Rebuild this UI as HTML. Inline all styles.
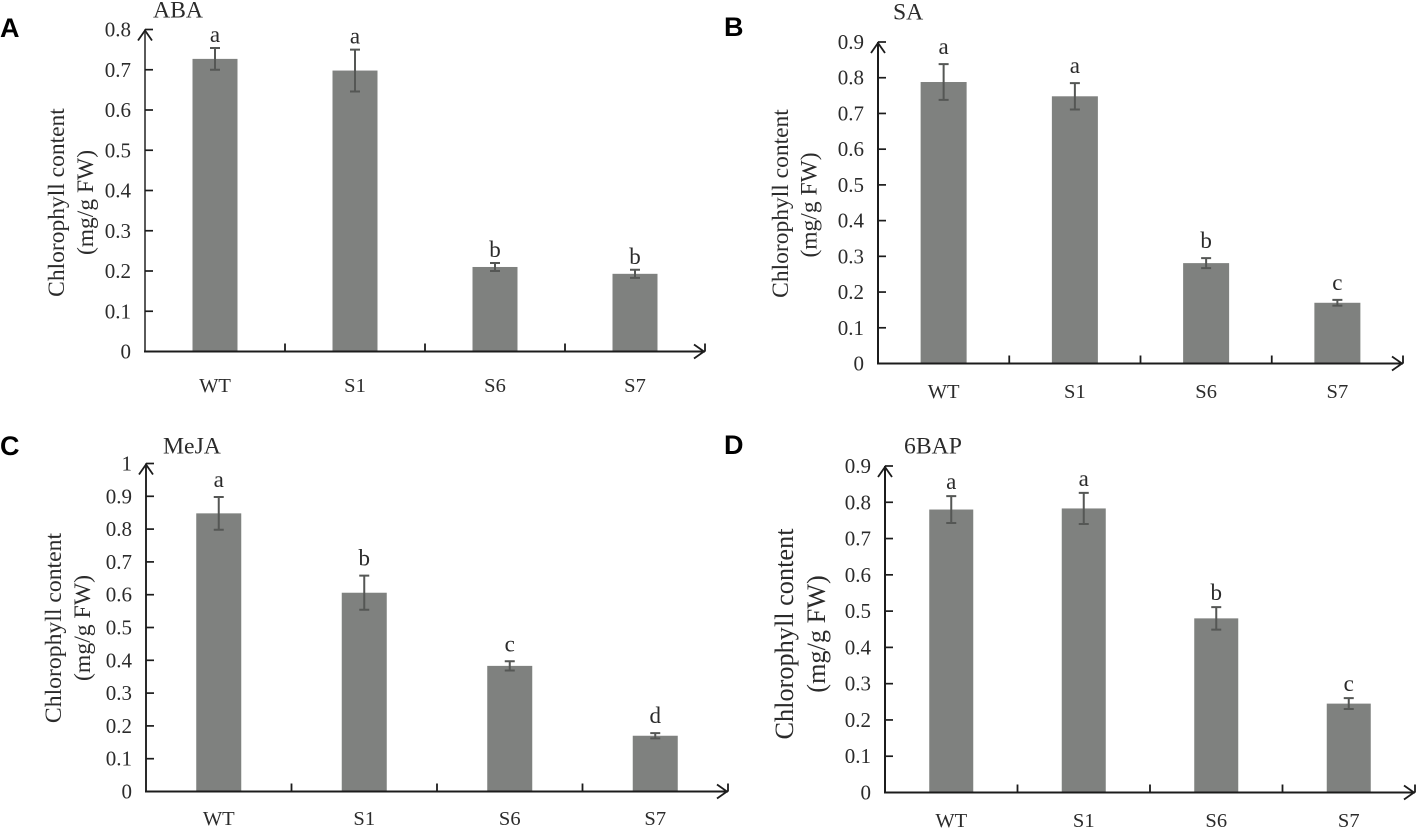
<!DOCTYPE html>
<html lang="en">
<head>
<meta charset="utf-8">
<title>Chlorophyll content under hormone treatments</title>
<style>
  html, body { margin: 0; padding: 0; background: #fff; }
  #figure { display: block; width: 1416px; height: 831px; }
  text { font-family: "Liberation Serif", serif; fill: #2b2b2b; }
  .panel-letter { font-family: "Liberation Sans", sans-serif; font-weight: bold; font-size: 27px; fill: #000; }
</style>
</head>
<body>
<svg id="figure" xmlns="http://www.w3.org/2000/svg" width="1416" height="831" viewBox="0 0 1416 831"></svg>
<script>
// Shared categories
const categories = ['WT', 'S1', 'S6', 'S7'];

// Panel A: ABA
const abaTicks = [0, 0.1, 0.2, 0.3, 0.4, 0.5, 0.6, 0.7, 0.8];
const abaValues = [0.727, 0.698, 0.210, 0.193];
const abaErrors = [0.027, 0.052, 0.010, 0.010];
const abaLetters = ['a', 'a', 'b', 'b'];

// Panel B: SA
const saTicks = [0, 0.1, 0.2, 0.3, 0.4, 0.5, 0.6, 0.7, 0.8, 0.9];
const saValues = [0.788, 0.748, 0.281, 0.170];
const saErrors = [0.050, 0.037, 0.014, 0.008];
const saLetters = ['a', 'a', 'b', 'c'];

// Panel C: MeJA
const mejaTicks = [0, 0.1, 0.2, 0.3, 0.4, 0.5, 0.6, 0.7, 0.8, 0.9, 1];
const mejaValues = [0.848, 0.606, 0.383, 0.170];
const mejaErrors = [0.050, 0.052, 0.014, 0.008];
const mejaLetters = ['a', 'b', 'c', 'd'];

// Panel D: 6BAP
const bapTicks = [0, 0.1, 0.2, 0.3, 0.4, 0.5, 0.6, 0.7, 0.8, 0.9];
const bapValues = [0.780, 0.783, 0.480, 0.245];
const bapErrors = [0.037, 0.043, 0.031, 0.015];
const bapLetters = ['a', 'a', 'b', 'c'];

const SVG_NS = 'http://www.w3.org/2000/svg';
const svg = document.getElementById('figure');

function make(parent, tag, attrs, content) {
  const node = document.createElementNS(SVG_NS, tag);
  for (const key in attrs) node.setAttribute(key, attrs[key]);
  if (content !== undefined) node.textContent = content;
  parent.appendChild(node);
  return node;
}

function drawPanel(cfg) {
  const slug = cfg.slug;
  const yScale = function (v) { return cfg.y0 - (v / cfg.yMax) * (cfg.y0 - cfg.yTop); };
  const slot = (cfg.xEnd - cfg.x0) / cfg.categories.length;
  const xScale = function (i) { return cfg.x0 + slot * (i + 0.5) + cfg.barShift; };

  const group = make(svg, 'g', {});
  
  

  const letter = make(group, 'text', { class: 'panel-letter', x: cfg.letterX, y: cfg.letterY }, cfg.letter);
  
  

  const title = make(group, 'text', { x: cfg.titleX, y: cfg.titleY, 'font-size': cfg.titleSize }, cfg.title);
  
  

  const yTitle1 = make(group, 'text', {
    'font-size': cfg.yTitleSize, 'text-anchor': 'middle',
    transform: 'translate(' + cfg.yLine1X + ' ' + cfg.yLine1Y + ') rotate(-90)'
  }, 'Chlorophyll content');
  
  

  const yTitle2 = make(group, 'text', {
    'font-size': cfg.yTitleSize, 'text-anchor': 'middle',
    transform: 'translate(' + cfg.yLine2X + ' ' + cfg.yLine2Y + ') rotate(-90)'
  }, '(mg/g FW)');
  
  

  cfg.values.forEach(function (value, i) {
    const cx = xScale(i);
    const bar = make(group, 'rect', {
      x: cx - cfg.barWidth / 2, y: yScale(value),
      width: cfg.barWidth, height: cfg.y0 - yScale(value), fill: '#7f817f'
    });
    
    
  });

  // Axes
  const yAxis = make(group, 'line', { x1: cfg.x0, y1: cfg.yTop, x2: cfg.x0, y2: cfg.y0 + 1, stroke: cfg.yAxisColor, 'stroke-width': 2 });
  
  

  const xAxis = make(group, 'line', { x1: cfg.x0 - 1, y1: cfg.y0, x2: cfg.xEnd, y2: cfg.y0, stroke: '#1c1c1c', 'stroke-width': 2 });
  
  

  const yArrow = make(group, 'path', {
    d: 'M' + (cfg.x0 - 7) + ' ' + (cfg.yTop + 11) + 'L' + cfg.x0 + ' ' + (cfg.yTop + 1) + 'L' + (cfg.x0 + 7) + ' ' + (cfg.yTop + 11),
    fill: 'none', stroke: '#1c1c1c', 'stroke-width': 1.8
  });
  
  

  const xArrow = make(group, 'path', {
    d: 'M' + (cfg.xEnd - 11) + ' ' + (cfg.y0 - 7) + 'L' + (cfg.xEnd - 1) + ' ' + cfg.y0 + 'L' + (cfg.xEnd - 11) + ' ' + (cfg.y0 + 7),
    fill: 'none', stroke: '#1c1c1c', 'stroke-width': 1.8
  });
  
  

  // Y ticks and labels
  cfg.ticks.forEach(function (tick) {
    const y = yScale(tick);
    if (tick !== 0) {
      const mark = make(group, 'line', { x1: cfg.x0, y1: y, x2: cfg.x0 + 8, y2: y, stroke: '#1c1c1c', 'stroke-width': 1.7 });
      
      
    }
    const label = make(group, 'text', {
      x: cfg.x0 - 14, y: y + cfg.tickDy, 'font-size': 21, 'text-anchor': 'end'
    }, String(tick));
    
    
  });

  // X ticks
  for (let i = 1; i <= cfg.categories.length; i++) {
    const x = cfg.x0 + slot * i;
    const mark = make(group, 'line', { x1: x, y1: cfg.y0 - 8, x2: x, y2: cfg.y0, stroke: '#1c1c1c', 'stroke-width': 1.8 });
    
    
  }

  // Error bars, significance letters, category labels
  cfg.values.forEach(function (value, i) {
    const cx = xScale(i);
    const top = yScale(value + cfg.errors[i]);
    const bottom = yScale(value - cfg.errors[i]);

    const err = make(group, 'path', {
      d: 'M' + (cx - 5) + ' ' + top + 'H' + (cx + 5) + 'M' + cx + ' ' + top + 'V' + bottom + 'M' + (cx - 5) + ' ' + bottom + 'H' + (cx + 5),
      fill: 'none', stroke: '#555755', 'stroke-width': 2
    });
    
    

    const sig = make(group, 'text', {
      x: cx, y: top - cfg.letterGap, 'font-size': 23, 'text-anchor': 'middle'
    }, cfg.letters[i]);
    
    

    const cat = make(group, 'text', {
      x: cx, y: cfg.catY, 'font-size': 20.5, 'text-anchor': 'middle'
    }, cfg.categories[i]);
    
    
  });
}

drawPanel({
  slug: 'aba', letter: 'A', title: 'ABA', categories: categories,
  ticks: abaTicks, values: abaValues, errors: abaErrors, letters: abaLetters, yMax: 0.8,
  x0: 145, xEnd: 705, y0: 351.5, yTop: 29.5, barWidth: 45, barShift: 0,
  yAxisColor: '#5a5a5a', tickDy: 7, letterGap: 6, catY: 392,
  letterX: 0, letterY: 37, titleX: 153, titleY: 17.5, titleSize: 23.7,
  yTitleSize: 23.5, yLine1X: 64, yLine1Y: 202.5, yLine2X: 93, yLine2Y: 202.5
});

drawPanel({
  slug: 'sa', letter: 'B', title: 'SA', categories: categories,
  ticks: saTicks, values: saValues, errors: saErrors, letters: saLetters, yMax: 0.9,
  x0: 878, xEnd: 1403, y0: 363.5, yTop: 42, barWidth: 46, barShift: 0,
  yAxisColor: '#1c1c1c', tickDy: 7, letterGap: 10, catY: 398,
  letterX: 724, letterY: 36, titleX: 893, titleY: 19.5, titleSize: 23.7,
  yTitleSize: 23.5, yLine1X: 788, yLine1Y: 203.5, yLine2X: 816.5, yLine2Y: 205
});

drawPanel({
  slug: 'meja', letter: 'C', title: 'MeJA', categories: categories,
  ticks: mejaTicks, values: mejaValues, errors: mejaErrors, letters: mejaLetters, yMax: 1,
  x0: 146, xEnd: 728, y0: 791.5, yTop: 463.5, barWidth: 45, barShift: 0,
  yAxisColor: '#2a2a2a', tickDy: 7, letterGap: 10, catY: 825,
  letterX: 0, letterY: 455, titleX: 163, titleY: 453.5, titleSize: 23.7,
  yTitleSize: 23.7, yLine1X: 61, yLine1Y: 628, yLine2X: 90, yLine2Y: 628
});

drawPanel({
  slug: 'bap', letter: 'D', title: '6BAP', categories: categories,
  ticks: bapTicks, values: bapValues, errors: bapErrors, letters: bapLetters, yMax: 0.9,
  x0: 885, xEnd: 1415, y0: 792.5, yTop: 466, barWidth: 44, barShift: 0,
  yAxisColor: '#1c1c1c', tickDy: 7, letterGap: 7, catY: 827,
  letterX: 724, letterY: 454, titleX: 904, titleY: 453.5, titleSize: 23.7,
  yTitleSize: 26.3, yLine1X: 793, yLine1Y: 634, yLine2X: 825, yLine2Y: 634
});
</script>
</body>
</html>
